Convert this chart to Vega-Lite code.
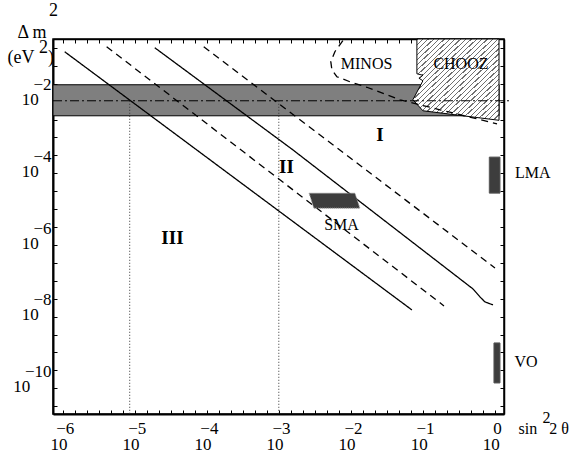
{
  "$schema": "https://vega.github.io/schema/vega-lite/v6.json",
  "width": 451,
  "height": 375,
  "autosize": "none",
  "padding": {"left": 53, "top": 39, "right": 79, "bottom": 41},
  "background": "white",
  "config": {
    "view": {"stroke": "black", "strokeWidth": 1.5},
    "font": "Liberation Serif",
    "axis": {"labelFont": "Liberation Serif", "titleFont": "Liberation Serif", "labelColor": "black", "titleColor": "black", "domainColor": "black", "tickColor": "black", "grid": false, "titleFontWeight": "normal"},
    "text": {"font": "Liberation Serif"}
  },
  "resolve": {"axis": {"x": "independent", "y": "independent"}},
  "datasets": {
    "band": [{"x": 7.35e-7, "x2": 1.138, "y": 9.376e-3, "y2": 1.276e-3}],
    "chooz": [
      {"y": 0.1775, "x": 0.0825, "x2": 1.137},
      {"y": 0.0190, "x": 0.0825, "x2": 1.137},
      {"y": 0.01726, "x": 0.1, "x2": 1.137},
      {"y": 0.01426, "x": 0.088, "x2": 1.137},
      {"y": 0.01213, "x": 0.1, "x2": 1.137},
      {"y": 3.57e-3, "x": 0.0726, "x2": 1.137},
      {"y": 1.762e-3, "x": 0.1, "x2": 1.137},
      {"y": 9.55e-4, "x": 1.137, "x2": 1.137}
    ],
    "atm": [{"x": 7.35e-7, "x2": 1.61, "y": 3.35e-3}],
    "dotted": [
      {"x": 8.53e-6, "y": 3.35e-3, "y2": 6.05e-12},
      {"x": 1.0e-3, "y": 3.35e-3, "y2": 6.05e-12}
    ],
    "lines": [
      {"id": "S1", "style": "solid", "i": 0, "x": 1.067e-6, "y": 0.0783},
      {"id": "S1", "style": "solid", "i": 1, "x": 0.0703, "y": 4.86e-9},
      {"id": "D1", "style": "dashed", "i": 0, "x": 4.08e-6, "y": 0.1081},
      {"id": "D1", "style": "dashed", "i": 1, "x": 0.196, "y": 6.30e-9},
      {"id": "S2", "style": "solid", "i": 0, "x": 1.897e-5, "y": 0.1014},
      {"id": "S2", "style": "solid", "i": 1, "x": 1.565e-3, "y": 1.432e-4},
      {"id": "S2", "style": "solid", "i": 2, "x": 0.494, "y": 1.879e-8},
      {"id": "S2", "style": "solid", "i": 3, "x": 0.619, "y": 1.122e-8},
      {"id": "S2", "style": "solid", "i": 4, "x": 0.726, "y": 8.15e-9},
      {"id": "S2", "style": "solid", "i": 5, "x": 0.938, "y": 6.71e-9},
      {"id": "D2", "style": "dashed", "i": 0, "x": 9.08e-5, "y": 0.1081},
      {"id": "D2", "style": "dashed", "i": 1, "x": 1.0, "y": 7.24e-8},
      {"id": "MINOS", "style": "dashed", "i": 0, "x": 7.74e-3, "y": 0.159},
      {"id": "MINOS", "style": "dashed", "i": 1, "x": 6.0e-3, "y": 0.0783},
      {"id": "MINOS", "style": "dashed", "i": 2, "x": 5.27e-3, "y": 0.0412},
      {"id": "MINOS", "style": "dashed", "i": 3, "x": 5.45e-3, "y": 0.0246},
      {"id": "MINOS", "style": "dashed", "i": 4, "x": 6.39e-3, "y": 0.0157},
      {"id": "MINOS", "style": "dashed", "i": 5, "x": 9.68e-3, "y": 0.01138},
      {"id": "MINOS", "style": "dashed", "i": 6, "x": 1.667e-2, "y": 7.98e-3},
      {"id": "MINOS", "style": "dashed", "i": 7, "x": 0.0479, "y": 3.57e-3},
      {"id": "MINOS", "style": "dashed", "i": 8, "x": 0.172, "y": 1.88e-3},
      {"id": "MINOS", "style": "dashed", "i": 9, "x": 1.067, "y": 7.64e-4}
    ],
    "sma": [
      {"y": 8.85e-6, "x": 2.636e-3, "x2": 1.138e-2},
      {"y": 3.373e-6, "x": 3.06e-3, "x2": 1.334e-2}
    ],
    "boxes": [
      {"name": "LMA", "x": 0.834, "x2": 1.173, "y": 8.97e-5, "y2": 8.85e-6},
      {"name": "VO", "x": 0.968, "x2": 1.173, "y": 5.82e-10, "y2": 4.45e-11}
    ],
    "names": [
      {"label": "MINOS", "x": 0.01652, "y": 0.0362},
      {"label": "CHOOZ", "x": 0.337, "y": 0.0362},
      {"label": "SMA", "x": 7.43e-3, "y": 1.151e-6},
      {"label": "LMA", "x": 3.34, "y": 3.27e-5},
      {"label": "VO", "x": 2.70, "y": 1.72e-10}
    ],
    "regions": [
      {"label": "I", "x": 0.0253, "y": 3.76e-4},
      {"label": "II", "x": 1.279e-3, "y": 4.90e-5},
      {"label": "III", "x": 3.34e-5, "y": 4.90e-7}
    ]
  },
  "layer": [
    {
      "data": {"name": "band"},
      "mark": {"type": "rect", "fill": "#7f7f7f", "stroke": "black", "strokeWidth": 1},
      "encoding": {
        "x": {"field": "x", "type": "quantitative", "scale": {"type": "log", "domain": [7.35e-7, 1.334], "nice": false},
          "axis": {"orient": "bottom", "values": [1e-6, 1.4678e-6, 2.1544e-6, 3.1623e-6, 4.6416e-6, 6.8129e-6, 1e-5, 1.4678e-5, 2.1544e-5, 3.1623e-5, 4.6416e-5, 6.8129e-5, 1e-4, 1.4678e-4, 2.1544e-4, 3.1623e-4, 4.6416e-4, 6.8129e-4, 1e-3, 1.4678e-3, 2.1544e-3, 3.1623e-3, 4.6416e-3, 6.8129e-3, 1e-2, 1.4678e-2, 2.1544e-2, 3.1623e-2, 4.6416e-2, 6.8129e-2, 1e-1, 1.4678e-1, 2.1544e-1, 3.1623e-1, 4.6416e-1, 6.8129e-1, 1],
            "labelExpr": "abs(log(datum.value)/LN10 - round(log(datum.value)/LN10)) < 0.01 ? ['\u200b\u00a0' + (round(log(datum.value)/LN10) == 0 ? '0' : '\u2212' + abs(round(log(datum.value)/LN10))), '10\u00a0\u00a0\u200b'] : ''",
            "labelFont": "Liberation Serif", "labelFontSize": 17, "labelLineHeight": 16, "labelPadding": 10.5, "labelOverlap": false, "labelFlush": false, "labelBound": false,
            "tickSize": -4, "tickWidth": 1, "domainWidth": 2,
            "title": ["\u200b\u00a0\u00a0\u00a0\u00a0\u00a0\u00a02", "sin\u00a0\u00a0\u00a02 \u03b8"], "titleFont": "Liberation Serif", "titleFontSize": 16, "titleLineHeight": 11,
            "titleAlign": "left", "titleBaseline": "middle", "titleAngle": 0, "titleX": 465, "titleY": 3}},
        "x2": {"field": "x2"},
        "y": {"field": "y", "type": "quantitative", "scale": {"type": "log", "domain": [6.05e-12, 0.1775], "nice": false},
          "axis": {"orient": "left", "values": [1e-11, 3.1623e-11, 1e-10, 3.1623e-10, 1e-9, 3.1623e-9, 1e-8, 3.1623e-8, 1e-7, 3.1623e-7, 1e-6, 3.1623e-6, 1e-5, 3.1623e-5, 1e-4, 3.1623e-4, 1e-3, 3.1623e-3, 1e-2, 3.1623e-2, 1e-1],
            "labelExpr": "(abs(log(datum.value)/LN10 - round(log(datum.value)/LN10)) < 0.01 && round(log(datum.value)/LN10) % 2 == 0) ? ['\u2212' + abs(round(log(datum.value)/LN10)), abs(round(log(datum.value)/LN10)) >= 10 ? '10\u00a0\u00a0\u00a0\u00a0\u00a0\u200b' : '10\u00a0\u00a0\u00a0\u200b'] : ''",
            "labelFont": "Liberation Serif", "labelFontSize": 17, "labelLineHeight": 15, "labelPadding": 6, "labelAlign": "right", "labelBaseline": "middle", "labelOffset": 1,
            "labelOverlap": false, "labelFlush": false, "labelBound": false,
            "tickSize": -4, "tickWidth": 1, "domainWidth": 2,
            "title": ["\u200b\u00a0\u00a0\u00a0\u00a0\u00a0\u00a0\u00a02", "(eV\u00a0\u00a0\u00a0)"], "titleFont": "Liberation Serif", "titleFontSize": 18, "titleLineHeight": 10,
            "titleAlign": "left", "titleBaseline": "middle", "titleAngle": 0, "titleX": -46, "titleY": 8}},
        "y2": {"field": "y2"}
      }
    },
    {
      "data": {"name": "chooz"},
      "mark": {"type": "area", "orient": "horizontal", "stroke": "black", "strokeWidth": 1,
        "fill": {"gradient": "linear", "x1": 0, "y1": 0, "x2": 1, "y2": 1, "stops": [
          {"offset": 0, "color": "white"}, {"offset": 0.02375, "color": "white"}, {"offset": 0.02375, "color": "#707070"}, {"offset": 0.03125, "color": "#707070"},
          {"offset": 0.03125, "color": "white"}, {"offset": 0.055, "color": "white"}, {"offset": 0.055, "color": "#707070"}, {"offset": 0.0625, "color": "#707070"},
          {"offset": 0.0625, "color": "white"}, {"offset": 0.08625, "color": "white"}, {"offset": 0.08625, "color": "#707070"}, {"offset": 0.09375, "color": "#707070"},
          {"offset": 0.09375, "color": "white"}, {"offset": 0.1175, "color": "white"}, {"offset": 0.1175, "color": "#707070"}, {"offset": 0.125, "color": "#707070"},
          {"offset": 0.125, "color": "white"}, {"offset": 0.14875, "color": "white"}, {"offset": 0.14875, "color": "#707070"}, {"offset": 0.15625, "color": "#707070"},
          {"offset": 0.15625, "color": "white"}, {"offset": 0.18, "color": "white"}, {"offset": 0.18, "color": "#707070"}, {"offset": 0.1875, "color": "#707070"},
          {"offset": 0.1875, "color": "white"}, {"offset": 0.21125, "color": "white"}, {"offset": 0.21125, "color": "#707070"}, {"offset": 0.21875, "color": "#707070"},
          {"offset": 0.21875, "color": "white"}, {"offset": 0.2425, "color": "white"}, {"offset": 0.2425, "color": "#707070"}, {"offset": 0.25, "color": "#707070"},
          {"offset": 0.25, "color": "white"}, {"offset": 0.27375, "color": "white"}, {"offset": 0.27375, "color": "#707070"}, {"offset": 0.28125, "color": "#707070"},
          {"offset": 0.28125, "color": "white"}, {"offset": 0.305, "color": "white"}, {"offset": 0.305, "color": "#707070"}, {"offset": 0.3125, "color": "#707070"},
          {"offset": 0.3125, "color": "white"}, {"offset": 0.33625, "color": "white"}, {"offset": 0.33625, "color": "#707070"}, {"offset": 0.34375, "color": "#707070"},
          {"offset": 0.34375, "color": "white"}, {"offset": 0.3675, "color": "white"}, {"offset": 0.3675, "color": "#707070"}, {"offset": 0.375, "color": "#707070"},
          {"offset": 0.375, "color": "white"}, {"offset": 0.39875, "color": "white"}, {"offset": 0.39875, "color": "#707070"}, {"offset": 0.40625, "color": "#707070"},
          {"offset": 0.40625, "color": "white"}, {"offset": 0.43, "color": "white"}, {"offset": 0.43, "color": "#707070"}, {"offset": 0.4375, "color": "#707070"},
          {"offset": 0.4375, "color": "white"}, {"offset": 0.46125, "color": "white"}, {"offset": 0.46125, "color": "#707070"}, {"offset": 0.46875, "color": "#707070"},
          {"offset": 0.46875, "color": "white"}, {"offset": 0.4925, "color": "white"}, {"offset": 0.4925, "color": "#707070"}, {"offset": 0.5, "color": "#707070"},
          {"offset": 0.5, "color": "white"}, {"offset": 0.52375, "color": "white"}, {"offset": 0.52375, "color": "#707070"}, {"offset": 0.53125, "color": "#707070"},
          {"offset": 0.53125, "color": "white"}, {"offset": 0.555, "color": "white"}, {"offset": 0.555, "color": "#707070"}, {"offset": 0.5625, "color": "#707070"},
          {"offset": 0.5625, "color": "white"}, {"offset": 0.58625, "color": "white"}, {"offset": 0.58625, "color": "#707070"}, {"offset": 0.59375, "color": "#707070"},
          {"offset": 0.59375, "color": "white"}, {"offset": 0.6175, "color": "white"}, {"offset": 0.6175, "color": "#707070"}, {"offset": 0.625, "color": "#707070"},
          {"offset": 0.625, "color": "white"}, {"offset": 0.64875, "color": "white"}, {"offset": 0.64875, "color": "#707070"}, {"offset": 0.65625, "color": "#707070"},
          {"offset": 0.65625, "color": "white"}, {"offset": 0.68, "color": "white"}, {"offset": 0.68, "color": "#707070"}, {"offset": 0.6875, "color": "#707070"},
          {"offset": 0.6875, "color": "white"}, {"offset": 0.71125, "color": "white"}, {"offset": 0.71125, "color": "#707070"}, {"offset": 0.71875, "color": "#707070"},
          {"offset": 0.71875, "color": "white"}, {"offset": 0.7425, "color": "white"}, {"offset": 0.7425, "color": "#707070"}, {"offset": 0.75, "color": "#707070"},
          {"offset": 0.75, "color": "white"}, {"offset": 0.77375, "color": "white"}, {"offset": 0.77375, "color": "#707070"}, {"offset": 0.78125, "color": "#707070"},
          {"offset": 0.78125, "color": "white"}, {"offset": 0.805, "color": "white"}, {"offset": 0.805, "color": "#707070"}, {"offset": 0.8125, "color": "#707070"},
          {"offset": 0.8125, "color": "white"}, {"offset": 0.83625, "color": "white"}, {"offset": 0.83625, "color": "#707070"}, {"offset": 0.84375, "color": "#707070"},
          {"offset": 0.84375, "color": "white"}, {"offset": 0.8675, "color": "white"}, {"offset": 0.8675, "color": "#707070"}, {"offset": 0.875, "color": "#707070"},
          {"offset": 0.875, "color": "white"}, {"offset": 0.89875, "color": "white"}, {"offset": 0.89875, "color": "#707070"}, {"offset": 0.90625, "color": "#707070"},
          {"offset": 0.90625, "color": "white"}, {"offset": 0.93, "color": "white"}, {"offset": 0.93, "color": "#707070"}, {"offset": 0.9375, "color": "#707070"},
          {"offset": 0.9375, "color": "white"}, {"offset": 0.96125, "color": "white"}, {"offset": 0.96125, "color": "#707070"}, {"offset": 0.96875, "color": "#707070"},
          {"offset": 0.96875, "color": "white"}, {"offset": 0.9925, "color": "white"}, {"offset": 0.9925, "color": "#707070"}, {"offset": 1, "color": "#707070"}
        ]}},
      "encoding": {
        "y": {"field": "y", "type": "quantitative", "scale": {"type": "log", "domain": [6.05e-12, 0.1775], "nice": false},
          "axis": {"orient": "right", "values": [1e-11, 3.1623e-11, 1e-10, 3.1623e-10, 1e-9, 3.1623e-9, 1e-8, 3.1623e-8, 1e-7, 3.1623e-7, 1e-6, 3.1623e-6, 1e-5, 3.1623e-5, 1e-4, 3.1623e-4, 1e-3, 3.1623e-3, 1e-2, 3.1623e-2, 1e-1],
            "labels": false, "tickSize": -4, "tickWidth": 1, "domainWidth": 1.5, "title": null}},
        "x": {"field": "x", "type": "quantitative", "scale": {"type": "log", "domain": [7.35e-7, 1.334], "nice": false},
          "axis": {"orient": "top", "values": [1e-6, 1.4678e-6, 2.1544e-6, 3.1623e-6, 4.6416e-6, 6.8129e-6, 1e-5, 1.4678e-5, 2.1544e-5, 3.1623e-5, 4.6416e-5, 6.8129e-5, 1e-4, 1.4678e-4, 2.1544e-4, 3.1623e-4, 4.6416e-4, 6.8129e-4, 1e-3, 1.4678e-3, 2.1544e-3, 3.1623e-3, 4.6416e-3, 6.8129e-3, 1e-2, 1.4678e-2, 2.1544e-2, 3.1623e-2, 4.6416e-2, 6.8129e-2, 1e-1, 1.4678e-1, 2.1544e-1, 3.1623e-1, 4.6416e-1, 6.8129e-1, 1],
            "labels": false, "tickSize": -4, "tickWidth": 1, "domainWidth": 1.5,
            "title": ["\u200b\u00a0\u00a0\u00a0\u00a0\u00a0\u00a0\u00a02", "\u0394 m"], "titleFont": "Liberation Serif", "titleFontSize": 18, "titleLineHeight": 22,
            "titleAlign": "left", "titleBaseline": "middle", "titleAngle": 0, "titleX": -36, "titleY": -29}},
        "x2": {"field": "x2"}
      }
    },
    {
      "data": {"name": "atm"},
      "mark": {"type": "rule", "color": "black", "strokeWidth": 1, "strokeDash": [9, 3, 2, 3]},
      "encoding": {
        "x": {"field": "x", "type": "quantitative", "scale": {"type": "log", "domain": [7.35e-7, 1.334], "nice": false}, "axis": null},
        "x2": {"field": "x2"},
        "y": {"field": "y", "type": "quantitative", "scale": {"type": "log", "domain": [6.05e-12, 0.1775], "nice": false}, "axis": null}
      }
    },
    {
      "data": {"name": "dotted"},
      "mark": {"type": "rule", "color": "#333333", "strokeWidth": 1, "strokeDash": [1, 2]},
      "encoding": {
        "x": {"field": "x", "type": "quantitative", "scale": {"type": "log", "domain": [7.35e-7, 1.334], "nice": false}, "axis": null},
        "y": {"field": "y", "type": "quantitative", "scale": {"type": "log", "domain": [6.05e-12, 0.1775], "nice": false}, "axis": null},
        "y2": {"field": "y2"}
      }
    },
    {
      "data": {"name": "lines"},
      "mark": {"type": "line", "color": "black", "strokeWidth": 1.3},
      "encoding": {
        "x": {"field": "x", "type": "quantitative", "scale": {"type": "log", "domain": [7.35e-7, 1.334], "nice": false}, "axis": null},
        "y": {"field": "y", "type": "quantitative", "scale": {"type": "log", "domain": [6.05e-12, 0.1775], "nice": false}, "axis": null},
        "detail": {"field": "id", "type": "nominal"},
        "order": {"field": "i", "type": "quantitative"},
        "strokeDash": {"field": "style", "type": "nominal", "scale": {"domain": ["solid", "dashed"], "range": [[1, 0], [7, 5]]}, "legend": null}
      }
    },
    {
      "data": {"name": "sma"},
      "mark": {"type": "area", "orient": "horizontal", "fill": "#3d3d3d", "stroke": "#9a9a9a", "strokeWidth": 1, "strokeDash": [1, 1]},
      "encoding": {
        "y": {"field": "y", "type": "quantitative", "scale": {"type": "log", "domain": [6.05e-12, 0.1775], "nice": false}, "axis": null},
        "x": {"field": "x", "type": "quantitative", "scale": {"type": "log", "domain": [7.35e-7, 1.334], "nice": false}, "axis": null},
        "x2": {"field": "x2"}
      }
    },
    {
      "data": {"name": "boxes"},
      "mark": {"type": "rect", "fill": "#3d3d3d", "stroke": "#555555", "strokeWidth": 1},
      "encoding": {
        "x": {"field": "x", "type": "quantitative", "scale": {"type": "log", "domain": [7.35e-7, 1.334], "nice": false}, "axis": null},
        "x2": {"field": "x2"},
        "y": {"field": "y", "type": "quantitative", "scale": {"type": "log", "domain": [6.05e-12, 0.1775], "nice": false}, "axis": null},
        "y2": {"field": "y2"}
      }
    },
    {
      "data": {"name": "names"},
      "mark": {"type": "text", "font": "Liberation Serif", "fontSize": 16, "color": "black", "align": "center", "baseline": "middle"},
      "encoding": {
        "x": {"field": "x", "type": "quantitative", "scale": {"type": "log", "domain": [7.35e-7, 1.334], "nice": false}, "axis": null},
        "y": {"field": "y", "type": "quantitative", "scale": {"type": "log", "domain": [6.05e-12, 0.1775], "nice": false}, "axis": null},
        "text": {"field": "label"}
      }
    },
    {
      "data": {"name": "regions"},
      "mark": {"type": "text", "font": "Liberation Serif", "fontSize": 19, "fontWeight": "bold", "color": "black", "align": "center", "baseline": "middle"},
      "encoding": {
        "x": {"field": "x", "type": "quantitative", "scale": {"type": "log", "domain": [7.35e-7, 1.334], "nice": false}, "axis": null},
        "y": {"field": "y", "type": "quantitative", "scale": {"type": "log", "domain": [6.05e-12, 0.1775], "nice": false}, "axis": null},
        "text": {"field": "label"}
      }
    }
  ]
}
